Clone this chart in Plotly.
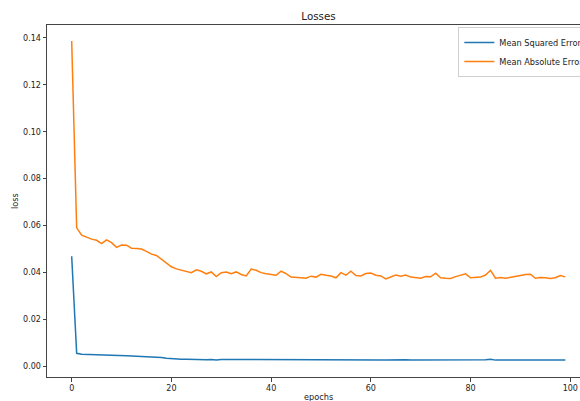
import plotly.graph_objects as go

epochs = list(range(100))

mse = [0.0469, 0.0055, 0.0051, 0.0050, 0.0049, 0.0049, 0.0047, 0.0048, 0.0047, 0.0045,
       0.0045, 0.0045, 0.0044, 0.0043, 0.0043, 0.0042, 0.0040, 0.0039, 0.0037, 0.0034,
       0.0032, 0.0031, 0.0030, 0.0030, 0.0029, 0.0030, 0.0029, 0.0028, 0.0029, 0.0027,
       0.0029, 0.0029, 0.0028, 0.0029, 0.0028, 0.0027, 0.0030, 0.0029, 0.0028, 0.0028,
       0.0028, 0.0027, 0.0029, 0.0028, 0.0027, 0.0027, 0.0027, 0.0027, 0.0027, 0.0027,
       0.0028, 0.0027, 0.0027, 0.0027, 0.0029, 0.0028, 0.0030, 0.0028, 0.0027, 0.0028,
       0.0029, 0.0028, 0.0027, 0.0026, 0.0027, 0.0028, 0.0027, 0.0028, 0.0027, 0.0027,
       0.0026, 0.0027, 0.0027, 0.0029, 0.0027, 0.0026, 0.0026, 0.0027, 0.0028, 0.0028,
       0.0027, 0.0027, 0.0027, 0.0028, 0.0030, 0.0026, 0.0026, 0.0026, 0.0026, 0.0027,
       0.0028, 0.0028, 0.0028, 0.0026, 0.0026, 0.0026, 0.0026, 0.0026, 0.0027, 0.0027]

mae = [0.1387, 0.0590, 0.0559, 0.0549, 0.0542, 0.0537, 0.0523, 0.0539, 0.0527, 0.0507,
       0.0517, 0.0516, 0.0503, 0.0502, 0.0500, 0.0490, 0.0478, 0.0472, 0.0455, 0.0438,
       0.0424, 0.0415, 0.0409, 0.0405, 0.0399, 0.0411, 0.0405, 0.0394, 0.0402, 0.0382,
       0.0399, 0.0402, 0.0394, 0.0402, 0.0391, 0.0385, 0.0414, 0.0409, 0.0399, 0.0394,
       0.0391, 0.0388, 0.0405, 0.0395, 0.0380, 0.0377, 0.0377, 0.0375, 0.0384, 0.0380,
       0.0392, 0.0388, 0.0385, 0.0377, 0.0399, 0.0388, 0.0405, 0.0387, 0.0385, 0.0395,
       0.0397, 0.0388, 0.0385, 0.0372, 0.0381, 0.0389, 0.0384, 0.0389, 0.0380, 0.0378,
       0.0375, 0.0382, 0.0381, 0.0397, 0.0377, 0.0375, 0.0374, 0.0382, 0.0389, 0.0394,
       0.0377, 0.0378, 0.0380, 0.0389, 0.0409, 0.0375, 0.0378, 0.0375, 0.0378, 0.0381,
       0.0387, 0.0391, 0.0392, 0.0375, 0.0378, 0.0377, 0.0374, 0.0377, 0.0387, 0.0381]

x_ticks = [0, 20, 40, 60, 80, 100]
y_ticks = [0.00, 0.02, 0.04, 0.06, 0.08, 0.10, 0.12, 0.14]

FONT = "DejaVu Sans"
AX = "#444444"
TXT = "#222222"

# Like the reference, the figure is a little wider than the window, so its right
# part (right spine, end of the legend) is cut off.
W, H = 600, 401

fig = go.Figure()
fig.add_trace(go.Scatter(x=epochs, y=mse, mode="lines", name="Mean Squared Error",
                         line=dict(color="#1f77b4", width=1.5)))
fig.add_trace(go.Scatter(x=epochs, y=mae, mode="lines", name="Mean Absolute Error",
                         line=dict(color="#ff7f0e", width=1.5)))

fig.update_layout(
    width=W, height=H,
    margin=dict(l=47, r=10, t=25, b=24, pad=0, autoexpand=False),
    paper_bgcolor="white", plot_bgcolor="white",
    font=dict(family=FONT, size=8, color=TXT),
    title=dict(text="Losses", x=0.5, xref="paper", xanchor="center",
               y=1 - 16.7 / H, yref="container", yanchor="middle",
               font=dict(family=FONT, size=10.3, color=TXT)),
    showlegend=True,
    legend=dict(x=0.7575, y=0.994, xanchor="left", yanchor="top",
                bgcolor="rgba(255,255,255,0.8)", bordercolor="#d0d0d0", borderwidth=1,
                font=dict(family=FONT, size=8.2, color=TXT),
                itemwidth=30, tracegroupgap=0),
    xaxis=dict(range=[-4.95, 103.95], tickvals=x_ticks, ticks="outside", ticklen=3.5,
               tickcolor=AX, showline=True, linecolor=AX, linewidth=1, mirror=True,
               showgrid=False, zeroline=False, automargin=False,
               tickfont=dict(family=FONT, size=8, color=TXT)),
    yaxis=dict(range=[-0.0046, 0.1455], tickvals=y_ticks, tickformat=".2f",
               ticks="outside", ticklen=3.5, tickcolor=AX, showline=True,
               linecolor=AX, linewidth=1, mirror=True, showgrid=False,
               zeroline=False, automargin=False,
               tickfont=dict(family=FONT, size=8, color=TXT)),
    annotations=[
        dict(text="epochs", xref="paper", yref="paper", x=0.5, y=0,
             xanchor="center", yanchor="middle", yshift=-19.7, showarrow=False,
             font=dict(family=FONT, size=8.2, color=TXT)),
        dict(text="loss", xref="paper", yref="paper", x=0, y=0.5,
             xanchor="center", yanchor="middle", xshift=-32, textangle=-90,
             showarrow=False, font=dict(family=FONT, size=8.2, color=TXT)),
    ],
)

fig.write_html(
    "out.html",
    config={"displayModeBar": False},
    post_script=(
        "document.body.style.margin='0';"
        "document.body.style.overflow='hidden';"
        "document.documentElement.style.overflow='hidden';"
    ),
)
